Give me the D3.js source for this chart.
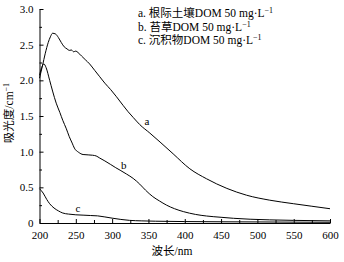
<!DOCTYPE html>
<html>
<head>
<meta charset="utf-8">
<script src="https://cdn.jsdelivr.net/npm/d3@7"></script>
<style>
  body { margin: 0; background: #fff; }
  text { font-family: "Liberation Serif", "Noto Sans CJK SC", serif; fill: #000; }
</style>
</head>
<body>
<div id="chart"></div>
<script>
// wavelength (nm) / absorbance (cm^-1)
const waveA = [200, 204, 208, 212, 215, 218, 222, 226, 230, 234, 238, 241, 244, 247, 250, 253, 258, 263, 269, 276, 283, 290, 298, 306, 315, 322, 329, 338, 352, 366, 384, 407, 430, 458, 485, 517, 550, 575, 600];
const absA = [2.03, 2.2, 2.38, 2.53, 2.61, 2.66, 2.65, 2.6, 2.53, 2.47, 2.44, 2.42, 2.425, 2.4, 2.41, 2.39, 2.34, 2.29, 2.23, 2.14, 2.05, 1.96, 1.87, 1.77, 1.65, 1.56, 1.48, 1.38, 1.26, 1.135, 0.97, 0.76, 0.62, 0.485, 0.39, 0.32, 0.27, 0.235, 0.2];

const waveB = [200, 203, 206, 209, 214, 218, 223, 228, 232, 237, 241, 245, 248, 254, 260, 267, 273, 278, 283, 290, 298, 305, 311, 320, 329, 338, 346, 356, 365, 375, 386, 398, 415, 430, 450, 467, 490, 517, 550, 600];
const absB = [2.07, 2.18, 2.23, 2.18, 2.0, 1.85, 1.68, 1.55, 1.44, 1.32, 1.21, 1.12, 1.05, 0.99, 0.96, 0.955, 0.95, 0.94, 0.91, 0.87, 0.82, 0.775, 0.74, 0.685, 0.625, 0.545, 0.46, 0.37, 0.31, 0.25, 0.2, 0.16, 0.12, 0.098, 0.08, 0.066, 0.053, 0.044, 0.037, 0.03];

const waveC = [200, 205, 210, 214, 220, 226, 232, 240, 250, 260, 270, 280, 290, 300, 312, 324, 340, 360, 400, 450, 500, 550, 600];
const absC = [0.48, 0.42, 0.33, 0.27, 0.21, 0.17, 0.14, 0.125, 0.115, 0.11, 0.105, 0.1, 0.085, 0.068, 0.05, 0.037, 0.03, 0.025, 0.02, 0.017, 0.015, 0.012, 0.01];

const curveTags = ["a", "b", "c"];
const legendNames = ["a. 根际土壤DOM 50 mg·L", "b. 苔草DOM 50 mg·L", "c. 沉积物DOM 50 mg·L"];
const xTicks = [200, 250, 300, 350, 400, 450, 500, 550, 600];
const yTicks = [0, 0.5, 1.0, 1.5, 2.0, 2.5, 3.0];

const width = 344, height = 262,
    margin = ({ top: 9, right: 14, bottom: 39, left: 39.5 });

const svg = d3.select("#chart")
    .append("svg")
    .attr("width", width)
    .attr("height", height);

let x = d3.scaleLinear()
    .domain([200, 600])
    .range([margin.left, width - margin.right]);

let y = d3.scaleLinear()
    .domain([0, 3])
    .range([height - margin.bottom, margin.top]);

// minor ticks
svg.append("g")
    .attr("transform", `translate(0,${height - margin.bottom})`)
    .call(d3.axisBottom(x).tickValues(d3.range(225, 600, 50)).tickSize(-3).tickFormat(""))
    .call(g => g.select(".domain").remove());
svg.append("g")
    .attr("transform", `translate(${margin.left},0)`)
    .call(d3.axisLeft(y).tickValues(d3.range(0.25, 3, 0.5)).tickSize(-2.5).tickFormat(""))
    .call(g => g.select(".domain").remove());

// x axis
svg.append("g")
    .attr("transform", `translate(0,${height - margin.bottom})`)
    .call(d3.axisBottom(x)
        .tickValues(xTicks)
        .tickSize(-4)
        .tickSizeOuter(0)
        .tickPadding(8))
    .call(g => g.selectAll("text").attr("font-size", 11).attr("font-family", null));

// y axis
svg.append("g")
    .attr("transform", `translate(${margin.left},0)`)
    .call(d3.axisLeft(y)
        .tickValues(yTicks)
        .tickSize(-4)
        .tickSizeOuter(0)
        .tickPadding(6)
        .tickFormat(d => d === 0 ? "0" : d3.format(".1f")(d)))
    .call(g => g.selectAll("text").attr("font-size", 11).attr("font-family", null));

svg.selectAll(".domain, .tick line").attr("stroke", "#000");

// axis titles
svg.append("text")
    .attr("text-anchor", "middle")
    .attr("x", 172)
    .attr("y", 255)
    .attr("font-size", 11.5)
    .text("波长/nm");

let yl = svg.append("text")
    .attr("text-anchor", "middle")
    .attr("transform", "translate(13,113) rotate(-90)")
    .attr("font-size", 11.5);
yl.append("tspan").text("吸光度/cm");
yl.append("tspan").attr("dy", -4).attr("font-size", 8).text("−1");

// curves
let line = d3.line()
    .x(d => x(d[0]))
    .y(d => y(d[1]))
    .curve(d3.curveMonotoneX);

const series = [[waveA, absA], [waveB, absB], [waveC, absC]];
series.forEach(([w, v]) => {
    svg.append("path")
        .datum(w.map((d, i) => [d, v[i]]))
        .attr("fill", "none")
        .attr("stroke", "#000")
        .attr("stroke-width", 1)
        .attr("d", line);
});

// letters next to the curves
const tagPos = [[348, 1.38], [316, 0.76], [253, 0.16]];
curveTags.forEach((t, i) => {
    svg.append("text")
        .attr("x", x(tagPos[i][0]))
        .attr("y", y(tagPos[i][1]))
        .attr("text-anchor", "middle")
        .attr("font-size", 11)
        .text(t);
});

// legend
legendNames.forEach((n, i) => {
    let t = svg.append("text")
        .attr("x", 138)
        .attr("y", 17 + i * 13.5)
        .attr("font-size", 11.5);
    t.append("tspan").text(n);
    t.append("tspan").attr("dy", -4).attr("font-size", 8).text("−1");
});
</script>
</body>
</html>
